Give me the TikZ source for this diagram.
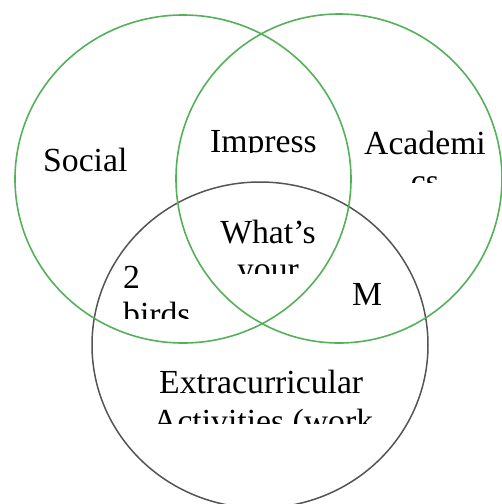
\documentclass[tikz,border=0pt]{standalone}
\usepackage{fontspec}
\setmainfont{Liberation Serif}
\usetikzlibrary{positioning}
\definecolor{cG}{rgb}{0.33,0.69,0.35}
\definecolor{cK}{rgb}{0.33,0.33,0.33}
\tikzset{vset/.style={
  draw=cG,
  line width=1.6pt,
  }
}
\tikzset{vsetB/.style={
  draw=cK,
  line width=1.5pt,
  }
}
\tikzset{vlabel/.style={
  font=\fontsize{33.7}{38}\selectfont,
  inner sep=0pt,
  anchor=base,
  text=black,
  }
}

\begin{document}
\begin{tikzpicture}[x=1pt,y=-1pt]
  \useasboundingbox (0,0) rectangle (502,504);

  % the three sets
  \draw[vsetB] (260,345) ellipse [x radius=168pt, y radius=163pt];
  \draw[vset] (183,179) ellipse [x radius=168pt, y radius=164pt];
  \draw[vset] (339,178.5) ellipse [x radius=163pt, y radius=164.5pt];

  % labels, cut off at the bottom of their boxes
  \node[vlabel, anchor=base west] (social) at (43,171) {Social};
  \node[vlabel, anchor=base west] (m) at (352,305) {M};

  \begin{scope}
    \clip (195,100) rectangle (335,152);
    \node[vlabel] (impress) at (263.5,152) {Impress};
  \end{scope}

  \begin{scope}
    \clip (355,120) rectangle (500,182);
    \node[vlabel] (acad1) at (425,154) {Academi};
    \node[vlabel] (acad2) at (425,192) {cs};
  \end{scope}

  \begin{scope}
    \clip (205,205) rectangle (330,273);
    \node[vlabel] (whats) at (268,243) {What’s};
    \node[vlabel] (your) at (268,280) {your};
  \end{scope}

  \begin{scope}
    \clip (115,255) rectangle (200,318);
    \node[vlabel, anchor=base west] (two) at (123,288) {2};
    \node[vlabel, anchor=base west] (birds) at (123,325) {birds};
  \end{scope}

  \begin{scope}
    \clip (140,355) rectangle (380,423);
    \node[vlabel, anchor=base west] (extra) at (159,393) {Extracurricular};
    \node[vlabel, anchor=base west] (activ) at (153,432) {Activities (work};
  \end{scope}
\end{tikzpicture}
\end{document}
